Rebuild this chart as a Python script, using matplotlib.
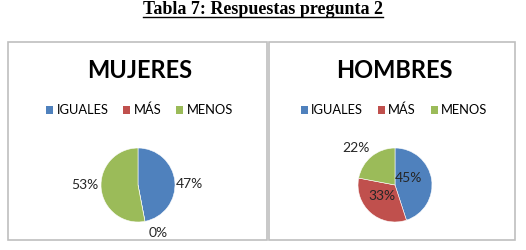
import matplotlib
matplotlib.use("Agg")
import matplotlib.pyplot as plt
from matplotlib.patches import Rectangle, Patch
from matplotlib.lines import Line2D
import numpy as np

# Data
categories = ["IGUALES", "MÁS", "MENOS"]
mujeres = [47, 0, 53]
hombres = [45, 33, 22]
chart_titles = ["MUJERES", "HOMBRES"]
table_title = "Tabla 7: Respuestas pregunta 2"

colors = ["#4F81BD", "#C0504D", "#9BBB59"]
W, H = 526, 250
ui_font = "Lato"

fig = plt.figure(figsize=(W / 100, H / 100), dpi=100)


def px_box(x0, y0, x1, y1):
    # pixel box (top-left origin) -> figure fraction [l, b, w, h]
    return [x0 / W, 1 - y1 / H, (x1 - x0) / W, (y1 - y0) / H]


# Table caption, bold serif and underlined
cap = fig.text(0.5, 1 - 10 / H, table_title, ha="center", va="center",
               fontsize=13, fontweight="bold", family="Liberation Serif")
fig.canvas.draw()
bb = cap.get_window_extent().transformed(fig.transFigure.inverted())
fig.add_artist(Line2D([bb.x0, bb.x1], [bb.y0 + 0.008, bb.y0 + 0.008],
                      transform=fig.transFigure, color="black", lw=1.0))

panels = [
    # box (x0, y0, x1, y1), pie centre, values, label distances, angle nudges
    ((8, 42, 267, 240), (138, 185), mujeres, [1.38, 1.40, 1.43], [-4, 12, -5]),
    ((269, 42, 515, 240), (395, 185), hombres, [0.41, 0.46, 1.45], [20, -9, 7]),
]
radius_px = 37

for (box, centre, values, dists, nudges), title in zip(panels, chart_titles):
    x0, y0, x1, y1 = box
    fig.add_artist(Rectangle((x0 / W, 1 - y1 / H), (x1 - x0) / W, (y1 - y0) / H,
                             transform=fig.transFigure, fill=False,
                             edgecolor="#BFBFBF", lw=1.2))
    mid = (x0 + x1) / 2 + 2
    fig.text(mid / W, 1 - 70 / H, title, ha="center", va="center",
             fontsize=17, fontweight="bold", family=ui_font)

    handles = [Patch(facecolor=c, edgecolor="none") for c in colors]
    fig.legend(handles, categories, loc="center", bbox_to_anchor=(mid / W, 1 - 110 / H),
               ncol=3, frameon=False, handlelength=0.55, handleheight=0.55,
               handletextpad=0.25, columnspacing=1.15,
               prop={"family": ui_font, "size": 9.3})

    # square axes centred on the pie, scaled so radius 1 == radius_px
    cx, cy = centre
    half = 60
    ax = fig.add_axes(px_box(cx - half, cy - half, cx + half, cy + half))
    wedges, _ = ax.pie(values, colors=colors, startangle=90, counterclock=False,
                       wedgeprops={"edgecolor": "white", "linewidth": 0.4})
    lim = half / radius_px
    ax.set_xlim(-lim, lim)
    ax.set_ylim(-lim, lim)
    ax.set_aspect("equal")
    ax.axis("off")

    for w, v, d, n in zip(wedges, values, dists, nudges):
        ang = np.deg2rad((w.theta1 + w.theta2) / 2 + n)
        ax.text(d * np.cos(ang), d * np.sin(ang), f"{v}%", ha="center", va="center",
                fontsize=10, family=ui_font, color="#262626", clip_on=False)

fig.savefig("out.png", dpi=100)
